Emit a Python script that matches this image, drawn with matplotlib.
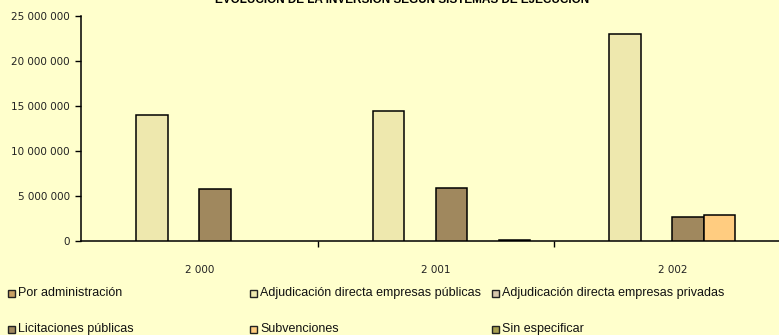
import matplotlib
matplotlib.use("Agg")
import matplotlib.pyplot as plt
from matplotlib.patches import Rectangle
from matplotlib.ticker import FuncFormatter, FixedLocator
import numpy as np

plt.rcParams['font.family'] = ['Liberation Sans', 'DejaVu Sans']

years = ["2 000", "2 001", "2 002"]
series_names = [
    "Por administración",
    "Adjudicación directa empresas públicas",
    "Adjudicación directa empresas privadas",
    "Licitaciones públicas",
    "Subvenciones",
    "Sin especificar",
]
por_administracion = [0, 0, 0]
adj_publicas = [14_000_000, 14_500_000, 23_000_000]
adj_privadas = [0, 0, 0]
licitaciones = [5_780_000, 5_900_000, 2_700_000]
subvenciones = [0, 0, 2_850_000]
sin_especificar = [0, 60_000, 0]

series_values = [por_administracion, adj_publicas, adj_privadas,
                 licitaciones, subvenciones, sin_especificar]
series_colors = ["#C8A064", "#EEE8AE", "#D8C8AC", "#A0885E", "#FFCC80", "#A8A050"]

bg = "#FFFFCC"
W, H = 779, 335
fig = plt.figure(figsize=(W / 100, H / 100), dpi=100, facecolor=bg)
ax = fig.add_axes([81 / W, 1 - 241 / H, 709.5 / W, (241 - 16) / H], facecolor=bg)

n = len(series_values)
x = np.arange(len(years))
w = 1 / (n + 1.5)
for i, (vals, col) in enumerate(zip(series_values, series_colors)):
    heights = np.array(vals, dtype=float)
    mask = heights > 0
    ax.bar(x[mask] + (i - (n - 1) / 2) * w, heights[mask], width=w,
           color=col, edgecolor="black", linewidth=1.1, zorder=3)

tick_font = dict(family="DejaVu Sans", size=7.5)
ax.set_xlim(-0.5, len(years) - 0.5)
ax.set_ylim(0, 25_000_000)
ax.set_yticks(np.arange(0, 25_000_001, 5_000_000))
ax.yaxis.set_major_formatter(FuncFormatter(lambda v, p: f"{int(v):,}".replace(",", " ")))
ax.set_xticks(x)
ax.set_xticklabels(years)
ax.xaxis.set_minor_locator(FixedLocator([0.5, 1.5]))
ax.tick_params(axis="x", which="major", length=0, pad=17, colors="#222222")
ax.tick_params(axis="x", which="minor", length=4, width=1, color="black")
ax.tick_params(axis="y", length=4, width=1, pad=4, colors="#222222")
ax.tick_params(axis="y", color="black")
for lbl in ax.get_xticklabels() + ax.get_yticklabels():
    lbl.set_fontfamily(tick_font["family"])
    lbl.set_fontsize(tick_font["size"])
for s in ["top", "right"]:
    ax.spines[s].set_visible(False)
for s in ["left", "bottom"]:
    ax.spines[s].set_color("black")
    ax.spines[s].set_linewidth(1.1)

fig.text(402 / W, 1 - 3 / H, "EVOLUCIÓN DE LA INVERSIÓN SEGÚN SISTEMAS DE EJECUCIÓN",
         ha="center", va="baseline", fontsize=8.5, fontweight="bold", color="black")

# legend laid out in a 3-column grid
cols_x = [8, 250, 492]
rows_y = [293, 329]
for k, (name, col) in enumerate(zip(series_names, series_colors)):
    r, c = divmod(k, 3)
    lx, ly = cols_x[c], rows_y[r]
    fig.patches.append(Rectangle((lx / W, 1 - (ly + 3.5) / H), 7 / W, 7 / H,
                                 transform=fig.transFigure, facecolor=col,
                                 edgecolor="#222222", linewidth=1.0))
    fig.text((lx + 10) / W, 1 - ly / H, name, ha="left", va="center",
             fontsize=9, color="#111111")

fig.savefig("out.png", dpi=100, facecolor=bg)
